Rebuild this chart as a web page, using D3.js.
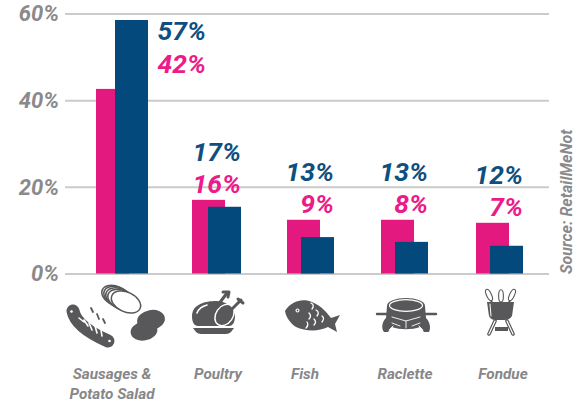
<!DOCTYPE html>
<html>
<head>
<meta charset="utf-8">
<script src="https://cdn.jsdelivr.net/npm/d3@7"></script>
<style>
body { margin: 0; background: #fff; }
svg { display: block; font-family: Roboto, sans-serif; font-style: italic; font-weight: 700; }
</style>
</head>
<body>
<svg width="576" height="404"></svg>
<script>
const categories = ["Sausages & Potato Salad", "Poultry", "Fish", "Raclette", "Fondue"];
const pinkValues = [42.6, 17, 12.4, 12.4, 11.7];
const blueValues = [58.5, 15.4, 8.4, 7.3, 6.4];
const blueLabels = ["57%", "17%", "13%", "13%", "12%"];
const pinkLabels = ["42%", "16%", "9%", "8%", "7%"];
const yTicks = [0, 20, 40, 60];

const PINK = "#e3197f", BLUE = "#04497c", GREY = "#8a8a8c", ICON = "#58585a";
const barWidth = 33;

const svg = d3.select("svg");

const y = d3.scaleLinear().domain([0, 60]).range([273.5, 13.5]);
const xPink = d3.scaleOrdinal().domain(categories).range([96, 192, 287, 381, 476]);
const xBlue = d3.scaleOrdinal().domain(categories).range([115, 208, 301, 395, 490]);
const xLabel = d3.scaleOrdinal().domain(categories).range([112, 218, 305, 405, 503]);

// grid + y ticks
const axis = svg.append("g")
	.attr("transform", "translate(65,0)")
	.call(d3.axisLeft(y).tickValues(yTicks).tickSize(-484).tickPadding(6).tickFormat(d => d + "%"));
axis.select(".domain").remove();
axis.selectAll("line").attr("stroke", "#cbcbcb").attr("stroke-width", 2);
axis.selectAll("text")
	.attr("fill", GREY)
	.attr("font-family", "Roboto, sans-serif")
	.attr("font-size", 22)
	.attr("dy", "0.34em");

// bars
svg.selectAll(".pink").data(categories).enter().append("rect")
	.attr("class", "pink")
	.attr("x", d => xPink(d))
	.attr("width", barWidth)
	.attr("y", (d, i) => y(pinkValues[i]))
	.attr("height", (d, i) => y(0) - y(pinkValues[i]))
	.attr("fill", PINK);

svg.selectAll(".blue").data(categories).enter().append("rect")
	.attr("class", "blue")
	.attr("x", d => xBlue(d))
	.attr("width", barWidth)
	.attr("y", (d, i) => y(blueValues[i]))
	.attr("height", (d, i) => y(0) - y(blueValues[i]))
	.attr("fill", BLUE);

// value labels, the first pair sits beside the tall bar
function labelX(d, i) { return xBlue(d) + barWidth + (i === 0 ? 58 : 0); }
function labelY(i) { return y(pinkValues[i]) - (i === 0 ? 16 : 6.5); }

svg.selectAll(".pinkLabel").data(categories).enter().append("text")
	.attr("class", "pinkLabel")
	.attr("x", labelX)
	.attr("y", (d, i) => labelY(i))
	.attr("text-anchor", "end")
	.attr("font-size", 26.5)
	.attr("fill", "#ec1a8a")
	.text((d, i) => pinkLabels[i]);

svg.selectAll(".blueLabel").data(categories).enter().append("text")
	.attr("class", "blueLabel")
	.attr("x", labelX)
	.attr("y", (d, i) => labelY(i) - 32.5)
	.attr("text-anchor", "end")
	.attr("font-size", 26.5)
	.attr("fill", "#0f4f80")
	.text((d, i) => blueLabels[i]);

// category labels
const catLabels = svg.selectAll(".cat").data(categories).enter().append("text")
	.attr("class", "cat")
	.attr("text-anchor", "middle")
	.attr("font-size", 15.3)
	.attr("fill", "#87878a");
catLabels.filter((d, i) => i > 0)
	.attr("x", d => xLabel(d))
	.attr("y", 379)
	.text(d => d);
catLabels.filter((d, i) => i === 0).each(function(d) {
	let parts = d.split("& ");
	d3.select(this).append("tspan").attr("x", xLabel(d)).attr("y", 379).text(parts[0] + "&");
	d3.select(this).append("tspan").attr("x", xLabel(d)).attr("y", 399).text(parts[1]);
});

svg.append("text")
	.attr("transform", "translate(572,274) rotate(-90)")
	.attr("font-size", 16)
	.attr("fill", GREY)
	.text("Source: RetailMeNot");

// icons
const icons = svg.append("g");
function p(d, fill, stroke, sw, cap) {
	return icons.append("path").attr("d", d).attr("fill", fill || "none")
		.attr("stroke", stroke || "none").attr("stroke-width", sw || 0)
		.attr("stroke-linecap", cap || "round").attr("stroke-linejoin", "round");
}
function ell(cx, cy, rx, ry, rot, fill, stroke, sw) {
	return icons.append("ellipse")
		.attr("cx", cx).attr("cy", cy).attr("rx", rx).attr("ry", ry)
		.attr("transform", "rotate(" + rot + " " + cx + " " + cy + ")")
		.attr("fill", fill).attr("stroke", stroke || "none").attr("stroke-width", sw || 0);
}

// sausage
p("M73,311 Q76,327 108,341", null, ICON, 13);
icons.append("circle").attr("cx", 71.5).attr("cy", 311.5).attr("r", 1.3).attr("fill", "#fff");
icons.append("circle").attr("cx", 109.5).attr("cy", 341).attr("r", 1.3).attr("fill", "#fff");
p("M79,318 L84,322 M84,320 L88,326 M89,323 L92,330 M95,326 L97,333 M101,330 L102,336", null, "#fff", 1.6);
p("M91,308 L93,312 M97,314 L99,319 M103,319 L105,323", null, ICON, 1.8);

// potato slices
[[116, 296], [118, 297], [120, 298.5], [122, 300]].forEach(c => ell(c[0], c[1], 15, 9.5, 25, "#fff", ICON, 1.6));
ell(126, 302, 15.5, 9.8, 25, "#fff", ICON, 1.5);

// potatoes
ell(151, 320, 14, 10, -10, ICON);
ell(144, 331, 13.5, 9.5, -10, ICON);

// poultry
p("M192,316 C192,304 206,301 216,301 C226,301 232,306 235,315 C235,322 233,326 229,326 L198,326 C194,326 192,322 192,316 Z", ICON);
ell(224.5, 315, 8.5, 11.5, 35, ICON, "#fff", 1.5);
p("M197,313 C199,308 203,306 207,305", null, "#fff", 1.6);
p("M218,305 L227,293 M232,309 L241,300", null, ICON, 3);
p("M223,292 L229,292 L228,297 M238,299 L243,303", null, ICON, 3);
p("M193,328 L234,328 L231,332 Q229,334 226,334 L201,334 Q198,334 196,332 Z", ICON);

// fish
p("M285,311 C291,301 303,298 312,302 C322,306 327,313 331,318 L340,315 L335,324 L337,332 L328,327 C318,332 305,331 296,327 C290,323 286,317 285,311 Z", ICON);
icons.append("circle").attr("cx", 297.5).attr("cy", 310.5).attr("r", 2).attr("fill", "#fff");
icons.append("circle").attr("cx", 297.5).attr("cy", 310.5).attr("r", 0.9).attr("fill", ICON);
p("M311,303 Q315,305 312,309 M316,310 Q320,312 317,316 M309,313 Q312,316 309,319 M322,316 Q325,318 322,322 M314,319 Q317,322 314,325 M307,322 Q309,325 306,328", null, "#fff", 1.3);

// raclette
p("M387,306 L425,306 L426,318 C430,322 431,328 429,332 L424,332 L420,327 C412,330 400,330 392,327 L388,332 L384,332 C381,328 382,322 386,318 Z", ICON);
ell(406, 306, 19, 8, 0, ICON);
ell(406, 305.5, 16.5, 5.8, 0, ICON, "#fff", 1.2);
p("M377,314 L387,314 M425,314 L436,314", null, ICON, 2.4);
p("M392,317 L406,321 L420,317 M406,321 L406,328 M392,323 L400,326 M420,323 L412,326 M389,330 L393,326 M423,330 L419,326", null, "#fff", 0.9);

// fondue
ell(489, 295, 2.4, 6.2, -25, "#fff", ICON, 1.1);
ell(501, 296, 2.4, 6.2, 0, "#fff", ICON, 1.1);
ell(512, 295, 2.4, 6.2, 25, "#fff", ICON, 1.1);
p("M491,301 L494,304 M501,302 L501,304 M510,301 L507,304", null, ICON, 1.5);
p("M487,302 L514,302 L512,316 Q510,320 504,320 L495,320 Q491,320 489,316 Z", ICON);
p("M490,304 L491,316", null, "#fff", 1);
p("M495,321 L489,334 M507,321 L513,334", null, ICON, 3.6);
p("M495,321 L489,334 M507,321 L513,334", null, "#fff", 1.2);
p("M495,327 L508,327 L508,331 L495,331 Z", ICON);
</script>
</body>
</html>
